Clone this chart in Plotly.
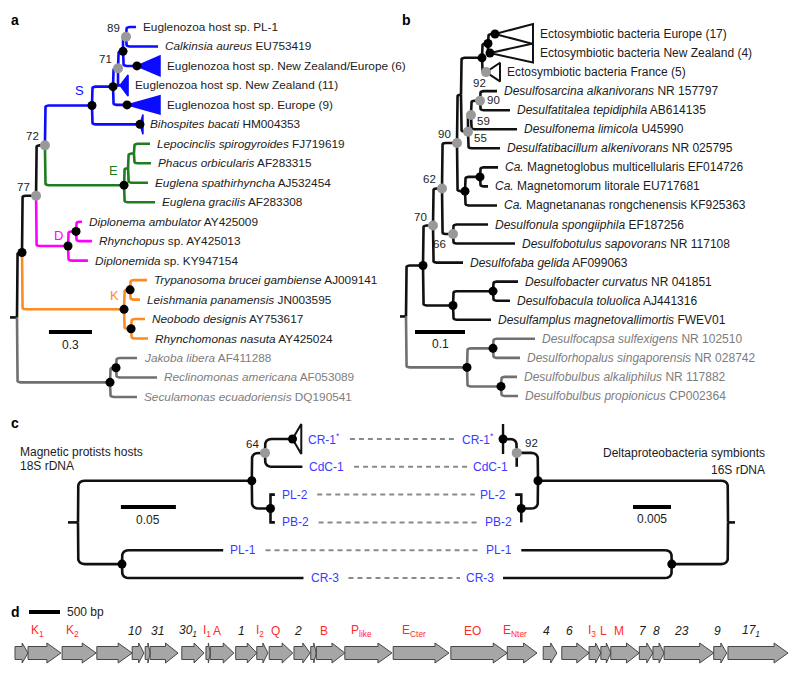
import plotly.graph_objects as go

W, H = 800, 674          # reference picture size (pixel frame of all positions below)
OFF = 8                  # page body margin of the html page
FIG_W, FIG_H = W - OFF, H - OFF
FONT = "Liberation Sans, Arial, Helvetica, sans-serif"
TXT = "#1c1c1c"

GROUP_COLOR = {"k": "#111111", "S": "#0b0bff", "E": "#1e7d1e", "D": "#ff00ff",
               "K": "#ff8a1e", "o": "#707070"}
LABEL_COLOR = {"k": TXT, "S": TXT, "E": TXT, "D": TXT, "K": TXT, "o": "#7d7d7d"}
DOT_COLOR = {"b": "#000000", "g": "#999999"}

# ======================= panel a : host 18S tree =======================
A_NODE_NAMES = ["root", "n22", "n77", "n72", "S", "A", "n71", "N1", "n89",
                "E", "E2", "E3", "D", "D2", "K", "K1", "K2", "O1", "O2"]
A_NODE_PARENTS = [None, "root", "n22", "n77", "n72", "S", "A", "n71", "N1",
                  "n72", "E", "E2", "n77", "D", "n22", "K", "K", "root", "O1"]
A_NODE_DEPTHS = [0.0, 0.035, 0.133, 0.195, 0.523, 0.670, 0.705, 0.740, 0.761,
                 0.747, 0.775, 0.816, 0.356, 0.412, 0.747, 0.789, 0.796, 0.649, 0.691]
A_NODE_GROUPS = ["k", "k", "k", "k", "S", "S", "S", "S", "S",
                 "E", "E", "E", "D", "D", "K", "K", "K", "o", "o"]
A_NODE_DOTS = ["", "b", "g", "g", "b", "b", "g", "b", "g",
               "b", "", "", "b", "b", "b", "b", "b", "b", "b"]
A_SUPPORT = {"n77": "77", "n72": "72", "n71": "71", "n89": "89"}
A_CLADE_TAGS = {"S": "S", "E": "E", "D": "D", "K": "K"}

A_LEAF_LABELS = [
    "Euglenozoa host sp. PL-1",
    "<i>Calkinsia aureus</i> EU753419",
    "Euglenozoa host sp. New Zealand/Europe (6)",
    "Euglenozoa host sp. New Zealand (11)",
    "Euglenozoa host sp. Europe (9)",
    "<i>Bihospites bacati</i> HM004353",
    "<i>Lepocinclis spirogyroides</i> FJ719619",
    "<i>Phacus orbicularis</i> AF283315",
    "<i>Euglena spathirhyncha</i> AJ532454",
    "<i>Euglena gracilis</i> AF283308",
    "<i>Diplonema ambulator</i> AY425009",
    "<i>Rhynchopus</i> sp. AY425013",
    "<i>Diplonemida</i> sp. KY947154",
    "<i>Trypanosoma brucei gambiense</i> AJ009141",
    "<i>Leishmania panamensis</i> JN003595",
    "<i>Neobodo designis</i> AY753617",
    "<i>Rhynchomonas nasuta</i> AY425024",
    "<i>Jakoba libera</i> AF411288",
    "<i>Reclinomonas americana</i> AF053089",
    "<i>Seculamonas ecuadoriensis</i> DQ190541",
]
A_LEAF_PARENTS = ["n89", "n89", "N1", "n71", "A", "S", "E3", "E3", "E2", "E",
                  "D2", "D2", "D", "K1", "K1", "K2", "K2", "O2", "O2", "O1"]
A_LEAF_DEPTHS = [0.830, 0.984, 0.837, 0.719, 0.768, 0.858, 0.928, 0.935, 0.914, 0.963,
                 0.454, 0.523, 0.495, 0.907, 0.858, 0.893, 0.914, 0.837, 0.977, 0.837]
A_LEAF_GROUPS = ["S"] * 6 + ["E"] * 4 + ["D"] * 3 + ["K"] * 4 + ["o"] * 3
A_LEAF_DOTS = ["", "", "b", "", "b", "b"] + [""] * 14
A_COLLAPSED_END = [None, None, 0.998, 0.775, 0.998, 0.879] + [None] * 14
A_COLLAPSED_HALF = [0, 0, 0.51, 0.54, 0.47, 0.51] + [0] * 14

# ======================= panel b : symbiont 16S tree =======================
B_NODE_NAMES = ["root", "R1", "n70", "n62", "n90", "T", "E", "N", "n55", "n59",
                "n90b", "M1", "M2", "n66", "B1", "B2", "O1", "O2", "O3"]
B_NODE_PARENTS = [None, "root", "R1", "n70", "n62", "n90", "T", "E", "T", "n55",
                  "n59", "n90", "M1", "n62", "R1", "B1", "root", "O1", "O1"]
B_NODE_DEPTHS = [0.0, 0.034, 0.054, 0.072, 0.102, 0.110, 0.152, 0.164, 0.124, 0.130,
                 0.148, 0.118, 0.148, 0.094, 0.094, 0.174, 0.122, 0.174, 0.190]
B_NODE_GROUPS = ["k"] * 16 + ["o"] * 3
B_NODE_DOTS = ["", "b", "g", "g", "g", "", "b", "b", "g", "g",
               "g", "b", "b", "g", "b", "b", "b", "b", "b"]
B_SUPPORT = {"n70": "70", "n62": "62", "n90": "90", "n55": "55", "n59": "59",
             "n90b": "90", "n66": "66", "@2": "92"}

B_LEAF_LABELS = [
    "Ectosymbiotic bacteria Europe (17)",
    "Ectosymbiotic bacteria New Zealand (4)",
    "Ectosymbiotic bacteria France (5)",
    "<i>Desulfosarcina alkanivorans</i> NR 157797",
    "<i>Desulfatitalea tepidiphila</i> AB614135",
    "<i>Desulfonema limicola</i> U45990",
    "<i>Desulfatibacillum alkenivorans</i> NR 025795",
    "<i>Ca.</i> Magnetoglobus multicellularis EF014726",
    "<i>Ca.</i> Magnetomorum litorale EU717681",
    "<i>Ca.</i> Magnetananas rongchenensis KF925363",
    "<i>Desulfonula spongiiphila</i> EF187256",
    "<i>Desulfobotulus sapovorans</i> NR 117108",
    "<i>Desulfofaba gelida</i> AF099063",
    "<i>Desulfobacter curvatus</i> NR 041851",
    "<i>Desulfobacula toluolica</i> AJ441316",
    "<i>Desulfamplus magnetovallimortis</i> FWEV01",
    "<i>Desulfocapsa sulfexigens</i> NR 102510",
    "<i>Desulforhopalus singaporensis</i> NR 028742",
    "<i>Desulfobulbus alkaliphilus</i> NR 117882",
    "<i>Desulfobulbus propionicus</i> CP002364",
]
B_LEAF_PARENTS = ["N", "N", "E", "n90b", "n90b", "n59", "n55", "M2", "M2", "M1",
                  "n66", "n66", "n70", "B2", "B2", "B1", "O2", "O2", "O3", "O3"]
B_LEAF_DEPTHS = [0.178, 0.168, 0.160, 0.182, 0.208, 0.222, 0.188, 0.184, 0.164, 0.182,
                 0.164, 0.218, 0.114, 0.224, 0.208, 0.170, 0.258, 0.228, 0.222, 0.224]
B_LEAF_GROUPS = ["k"] * 16 + ["o"] * 4
B_LEAF_DOTS = ["b", "b", "g"] + [""] * 17
B_COLLAPSED_END = [0.254, 0.254, 0.188] + [None] * 17
B_COLLAPSED_HALF = [0.52, 0.50, 0.49] + [0] * 17

# ======================= panel c : co-phylogeny =======================
C_LEAF_LABELS = ["CR-1<sup>*</sup>", "CdC-1", "PL-2", "PB-2", "PL-1", "CR-3"]
C_LEAF_PLAIN = ["CR-1*", "CdC-1", "PL-2", "PB-2", "PL-1", "CR-3"]

CH_NODE_NAMES = ["root", "h1", "h64", "h2", "h3"]
CH_NODE_PARENTS = [None, "root", "h1", "h1", "root"]
CH_NODE_DEPTHS = [0.0, 0.158, 0.170, 0.175, 0.040]
CH_NODE_DOTS = ["", "b", "g", "b", "b"]
CH_SUPPORT = {"h64": "64"}
CH_LEAF_PARENTS = ["h64", "h64", "h2", "h2", "h3", "h3"]
CH_LEAF_DEPTHS = [0.195, 0.204, 0.179, 0.179, 0.132, 0.205]
CH_LEAF_DOTS = ["b", "", "", "", "", ""]
CH_COLLAPSED_END = [0.203, None, None, None, None, None]

CS_NODE_NAMES = ["root", "s1", "s92", "s2", "s3"]
CS_NODE_PARENTS = [None, "root", "s1", "s1", "root"]
CS_NODE_DEPTHS = [0.0, 0.0250, 0.0278, 0.0272, 0.0074]
CS_NODE_DOTS = ["", "b", "g", "b", "b"]
CS_SUPPORT = {"s92": "92"}
CS_LEAF_PARENTS = ["s92", "s92", "s2", "s2", "s3", "s3"]
CS_LEAF_DEPTHS = [0.0296, 0.0278, 0.0280, 0.0272, 0.0272, 0.0296]
CS_LEAF_DOTS = ["b", "", "", "", "", ""]
CS_COLLAPSED_END = [0.0296, None, None, None, None, None]
C_COLLAPSED_HALF = [0.54, 0, 0, 0, 0, 0]

# ======================= panel d : magnetosome gene cluster (bp) =======================
GENE_START = [0, 210, 760, 1320, 1890, 2100, 2180, 2690, 3080, 3150, 3560, 3900, 4100,
              4500, 4770, 4860, 5320, 6100, 7030, 7940, 8520, 8820, 9260, 9450, 9610,
              10070, 10290, 10470, 11270, 11500]
GENE_END = [210, 740, 1310, 1890, 2080, 2180, 2630, 3050, 3150, 3530, 3900, 4080, 4480,
            4760, 4860, 5320, 6080, 7000, 7940, 8420, 8740, 9260, 9450, 9610, 10070,
            10290, 10470, 11270, 11480, 12470]
GENE_LABELS = ["", "K<sub>1</sub>", "K<sub>2</sub>", "", "10", "", "31", "30<sub>1</sub>",
               "I<sub>1</sub>", "A", "1", "I<sub>2</sub>", "Q", "2", "", "B", "P<sub>like</sub>",
               "E<sub>Cter</sub>", "EO", "E<sub>Nter</sub>", "4", "6", "I<sub>3</sub>", "L", "M",
               "7", "8", "23", "9", "17<sub>1</sub>"]
GENE_KIND = ["", "mam", "mam", "", "num", "", "num", "num", "mam", "mam", "num", "mam", "mam",
             "num", "", "mam", "mam", "mam", "mam", "mam", "num", "num", "mam", "mam", "mam",
             "num", "num", "num", "num", "num"]
SCALE_BP = 500

# ======================= geometry / style (pixel frames) =======================
STYLE_A = dict(ax=1, x0=17, xs=143.3, y0=27, ys=19.47, rev=False, lw=2.6, radius=3.5,
               size=11.8, pad=5, stub=7, tri_fill=True, tri_lw=1.5)
STYLE_B = dict(ax=2, x0=406, xs=500.0, y0=34, ys=19.05, rev=False, lw=2.6, radius=3.5,
               size=12, pad=5, stub=6, tri_fill=False, tri_lw=2)
STYLE_CH = dict(ax=3, x0=78, xs=1100.0, y0=439, ys=27.8, rev=False, lw=2.6, radius=7,
                size=12, pad=5, stub=10, tri_fill=False, tri_lw=2, label_color="#3b3bff")
STYLE_CS = dict(ax=4, x0=728, xs=7600.0, y0=439, ys=27.8, rev=True, lw=2.6, radius=7,
                size=12, pad=7, stub=7, tri_fill=False, tri_lw=2.4, label_color="#3b3bff")
D_X0, D_BP_PER_PX, D_Y0, D_PX_PER_UNIT = 15, 16.13, 653, 10.0

SUPPORT_POS = {  # (xanchor, xshift, yshift)
    "ul": ("right", -4, 9), "ll": ("right", -5, -10), "r": ("left", 5, 1),
    "lr": ("left", 4, -6), "ur": ("left", 6, 10), "b": ("right", 2, -11),
}
A_SUPPORT_POS = {"n77": "ul", "n72": "ul", "n71": "ul", "n89": "ul"}
B_SUPPORT_POS = {"n70": "ul", "n62": "ul", "n90": "ul", "n55": "lr", "n59": "lr",
                 "n90b": "r", "n66": "ll", "@2": "b"}
A_TAG_SHIFT = {"S": (-12, 15), "E": (-11, 15), "D": (-10, 11), "K": (-10, 14)}

fig = go.Figure()
annotations = []


def axname(i):
    return ("x" if i == 1 else "x%d" % i), ("y" if i == 1 else "y%d" % i)


def elbow(xp, yp, xc, yc, rx, ry):
    if abs(yc - yp) < 1e-9:
        return [(xp, yp), (xc, yc)]
    s = 1.0 if yc > yp else -1.0
    if abs(yc - yp) <= ry or (xc - xp) <= rx:
        return [(xp, yp), (xp, yc), (xc, yc)]
    a = (xp, yc - s * ry)
    b = (xp, yc)
    c = (xp + rx, yc)
    pts = [(xp, yp), a]
    for t in (0.2, 0.4, 0.6, 0.8):
        pts.append(((1 - t) ** 2 * a[0] + 2 * (1 - t) * t * b[0] + t * t * c[0],
                    (1 - t) ** 2 * a[1] + 2 * (1 - t) * t * b[1] + t * t * c[1]))
    pts += [c, (xc, yc)]
    return pts


def draw_tree(st, names, parents, depths, groups, dots, support, support_pos,
              labels, lparents, ldepths, lgroups, ldots, cend, chalf):
    xr, yr = axname(st["ax"])
    children = {n: [] for n in names}
    for n, p in zip(names, parents):
        if p is not None:
            children[p].append(n)
    for i, p in enumerate(lparents):
        children[p].append("@%d" % i)
    ypos = {}

    def gy(n):
        if n.startswith("@"):
            return float(n[1:])
        if n not in ypos:
            ys = [gy(c) for c in children[n]]
            ypos[n] = (min(ys) + max(ys)) / 2.0
        return ypos[n]

    for n in names:
        gy(n)
    depth = dict(zip(names, depths))
    for i, d in enumerate(ldepths):
        depth["@%d" % i] = d
        ypos["@%d" % i] = float(i)
    rx = st["radius"] / st["xs"]
    ry = st["radius"] / st["ys"]
    segs = {}

    def add(color, pts):
        xs, ys = segs.setdefault(color, ([], []))
        for x, y in pts:
            xs.append(x)
            ys.append(y)
        xs.append(None)
        ys.append(None)

    root = names[0]
    add(GROUP_COLOR[groups[0]], [(-st["stub"] / st["xs"], ypos[root]), (0.0, ypos[root])])
    for n, p, g in zip(names, parents, groups):
        if p is not None:
            add(GROUP_COLOR[g], elbow(depth[p], ypos[p], depth[n], ypos[n], rx, ry))
    for i, (p, g) in enumerate(zip(lparents, lgroups)):
        add(GROUP_COLOR[g], elbow(depth[p], ypos[p], ldepths[i], float(i), rx, ry))
    for color, (xs, ys) in segs.items():
        fig.add_trace(go.Scatter(x=xs, y=ys, mode="lines", xaxis=xr, yaxis=yr,
                                 line=dict(color=color, width=st["lw"]), hoverinfo="skip"))
    # collapsed clades (triangles)
    for i, e in enumerate(cend):
        if e is None:
            continue
        d, h = ldepths[i], chalf[i]
        col = GROUP_COLOR[lgroups[i]]
        fig.add_trace(go.Scatter(
            x=[d, e, e, d], y=[i, i - h, i + h, i], mode="lines", xaxis=xr, yaxis=yr,
            fill="toself" if st["tri_fill"] else "none", fillcolor=col,
            line=dict(color=col, width=st["tri_lw"]), hoverinfo="skip"))
    # node dots
    for kind, size in (("b", 9), ("g", 10)):
        xs, ys = [], []
        for n, dt in zip(names, dots):
            if dt == kind:
                xs.append(depth[n])
                ys.append(ypos[n])
        for i, dt in enumerate(ldots):
            if dt == kind:
                xs.append(ldepths[i])
                ys.append(float(i))
        if xs:
            fig.add_trace(go.Scatter(x=xs, y=ys, mode="markers", xaxis=xr, yaxis=yr,
                                     marker=dict(color=DOT_COLOR[kind], size=size, line=dict(width=0)),
                                     hoverinfo="skip"))
    # leaf labels
    for i, lab in enumerate(labels):
        lx = cend[i] if cend[i] is not None else ldepths[i]
        color = st.get("label_color", LABEL_COLOR[lgroups[i]])
        annotations.append(dict(
            x=lx, y=i, xref=xr, yref=yr, text=lab, showarrow=False,
            xanchor="right" if st["rev"] else "left", yanchor="middle",
            xshift=-st["pad"] if st["rev"] else st["pad"],
            font=dict(family=FONT, size=st["size"], color=color)))
    # support values
    for n, val in support.items():
        xa, xsft, ysft = SUPPORT_POS[support_pos[n]]
        annotations.append(dict(
            x=depth[n], y=ypos[n], xref=xr, yref=yr, text=val, showarrow=False,
            xanchor=xa, yanchor="middle", xshift=xsft, yshift=ysft,
            font=dict(family=FONT, size=11.5, color=TXT)))
    return depth, ypos


# ---- axes (every subplot spans the whole figure; ranges map data to the reference pixels)
def set_axes(i, xrng, yrng):
    xk = "xaxis" if i == 1 else "xaxis%d" % i
    yk = "yaxis" if i == 1 else "yaxis%d" % i
    xr, yr = axname(i)
    fig.layout[xk] = dict(domain=[0, 1], range=xrng, visible=False, fixedrange=True, anchor=yr)
    fig.layout[yk] = dict(domain=[0, 1], range=yrng, visible=False, fixedrange=True, anchor=xr)


for st in (STYLE_A, STYLE_B, STYLE_CH, STYLE_CS):
    if st["rev"]:
        xrng = [(st["x0"] - OFF) / st["xs"], (st["x0"] - W) / st["xs"]]
    else:
        xrng = [(OFF - st["x0"]) / st["xs"], (W - st["x0"]) / st["xs"]]
    yrng = [(H - st["y0"]) / st["ys"], (OFF - st["y0"]) / st["ys"]]
    set_axes(st["ax"], xrng, yrng)
set_axes(5, [(OFF - D_X0) * D_BP_PER_PX, (W - D_X0) * D_BP_PER_PX],
         [(D_Y0 - H) / D_PX_PER_UNIT, (D_Y0 - OFF) / D_PX_PER_UNIT])

# ---- panel a
dA, yA = draw_tree(STYLE_A, A_NODE_NAMES, A_NODE_PARENTS, A_NODE_DEPTHS, A_NODE_GROUPS,
                   A_NODE_DOTS, A_SUPPORT, A_SUPPORT_POS, A_LEAF_LABELS, A_LEAF_PARENTS,
                   A_LEAF_DEPTHS, A_LEAF_GROUPS, A_LEAF_DOTS, A_COLLAPSED_END, A_COLLAPSED_HALF)
for n, tag in A_CLADE_TAGS.items():
    xs_, ys_ = A_TAG_SHIFT[tag]
    annotations.append(dict(x=dA[n], y=yA[n], xref="x", yref="y", text=tag, showarrow=False,
                            xanchor="center", yanchor="middle", xshift=xs_, yshift=ys_,
                            font=dict(family=FONT, size=13, color=GROUP_COLOR[tag])))

# ---- panel b
draw_tree(STYLE_B, B_NODE_NAMES, B_NODE_PARENTS, B_NODE_DEPTHS, B_NODE_GROUPS,
          B_NODE_DOTS, B_SUPPORT, B_SUPPORT_POS, B_LEAF_LABELS, B_LEAF_PARENTS,
          B_LEAF_DEPTHS, B_LEAF_GROUPS, B_LEAF_DOTS, B_COLLAPSED_END, B_COLLAPSED_HALF)

# ---- panel c
draw_tree(STYLE_CH, CH_NODE_NAMES, CH_NODE_PARENTS, CH_NODE_DEPTHS, ["k"] * 5,
          CH_NODE_DOTS, CH_SUPPORT, {"h64": "ul"}, C_LEAF_LABELS, CH_LEAF_PARENTS,
          CH_LEAF_DEPTHS, ["k"] * 6, CH_LEAF_DOTS, CH_COLLAPSED_END, C_COLLAPSED_HALF)
draw_tree(STYLE_CS, CS_NODE_NAMES, CS_NODE_PARENTS, CS_NODE_DEPTHS, ["k"] * 5,
          CS_NODE_DOTS, CS_SUPPORT, {"s92": "ur"}, C_LEAF_LABELS, CS_LEAF_PARENTS,
          CS_LEAF_DEPTHS, ["k"] * 6, CS_LEAF_DOTS, CS_COLLAPSED_END, C_COLLAPSED_HALF)

# dashed host-symbiont links, computed from label extents
ARIAL_W = {"C": 722, "R": 722, "-": 333, "1": 556, "*": 300, "d": 556, "D": 722,
           "P": 667, "L": 556, "2": 556, "B": 667, "3": 556}


def text_px(s, size=12):
    return sum(ARIAL_W.get(ch, 556) for ch in s) * size / 1000.0


lx, ly = [], []
for i, plain in enumerate(C_LEAF_PLAIN):
    hx = CH_COLLAPSED_END[i] if CH_COLLAPSED_END[i] is not None else CH_LEAF_DEPTHS[i]
    sx = CS_COLLAPSED_END[i] if CS_COLLAPSED_END[i] is not None else CS_LEAF_DEPTHS[i]
    left_px = STYLE_CH["x0"] + hx * STYLE_CH["xs"] + STYLE_CH["pad"] + text_px(plain) + 12
    right_px = STYLE_CS["x0"] - sx * STYLE_CS["xs"] - STYLE_CS["pad"] - text_px(plain) - 8
    lx += [(left_px - STYLE_CH["x0"]) / STYLE_CH["xs"], (right_px - STYLE_CH["x0"]) / STYLE_CH["xs"], None]
    ly += [i, i, None]
fig.add_trace(go.Scatter(x=lx, y=ly, mode="lines", xaxis="x3", yaxis="y3",
                         line=dict(color="#8a8a8a", width=2, dash="5px,4px"), hoverinfo="skip"))

# ---- scale bars for trees
SCALE_BARS = [  # (style, length, start, row, label, text shift)
    (STYLE_A, 0.3, 0.223, 15.66, "0.3", -13),
    (STYLE_B, 0.1, 0.018, 15.64, "0.1", -12),
    (STYLE_CH, 0.05, 0.039, 2.45, "0.05", -13),
    (STYLE_CS, 0.005, 0.0075, 2.45, "0.005", -12),
]
for st, length, x0, row, lab, tsh in SCALE_BARS:
    xr, yr = axname(st["ax"])
    fig.add_trace(go.Scatter(x=[x0, x0 + length], y=[row, row], mode="lines", xaxis=xr, yaxis=yr,
                             line=dict(color="#000000", width=4), hoverinfo="skip"))
    annotations.append(dict(x=x0 + length / 2, y=row, xref=xr, yref=yr, text=lab, showarrow=False,
                            xanchor="center", yanchor="middle", yshift=tsh,
                            font=dict(family=FONT, size=12, color=TXT)))

# ---- panel d: gene arrows
BODY, HEAD = 0.65, 1.0
gx, gy_ = [], []
for s, e, lab, kind in zip(GENE_START, GENE_END, GENE_LABELS, GENE_KIND):
    head = min(14 * D_BP_PER_PX, 0.45 * (e - s))
    gx += [s, e - head, e - head, e, e - head, e - head, s, s, None]
    gy_ += [-BODY, -BODY, -HEAD, 0, HEAD, BODY, BODY, -BODY, None]
    if lab:
        txt = "<i>%s</i>" % lab if kind == "num" else lab
        annotations.append(dict(
            x=(s + e - head) / 2.0, y=2.2, xref="x5", yref="y5", text=txt, showarrow=False,
            xanchor="center", yanchor="middle",
            font=dict(family=FONT, size=12, color="#ff2b2b" if kind == "mam" else TXT)))
fig.add_trace(go.Scatter(x=gx, y=gy_, mode="lines", xaxis="x5", yaxis="y5", fill="toself",
                         fillcolor="#a6a6a6", line=dict(color="#474747", width=1), hoverinfo="skip"))
bar0 = 14 * D_BP_PER_PX
fig.add_trace(go.Scatter(x=[bar0, bar0 + SCALE_BP], y=[4.1, 4.1], mode="lines", xaxis="x5", yaxis="y5",
                         line=dict(color="#000000", width=4), hoverinfo="skip"))
annotations.append(dict(x=bar0 + SCALE_BP, y=4.1, xref="x5", yref="y5", text="500 bp", showarrow=False,
                        xanchor="left", yanchor="middle", xshift=5,
                        font=dict(family=FONT, size=12, color=TXT)))


# ---- paper text: panel letters, panel c headings
def paper_text(txt, px, py, anchor="left", size=12, bold=False):
    annotations.append(dict(x=(px - OFF) / FIG_W, y=1 - (py - OFF) / FIG_H, xref="paper", yref="paper",
                            text="<b>%s</b>" % txt if bold else txt, showarrow=False,
                            xanchor=anchor, yanchor="middle",
                            font=dict(family=FONT, size=size, color="#000000" if bold else TXT)))


for letter, px, py in (("a", 9, 20), ("b", 400, 20), ("c", 9, 423), ("d", 9, 612)):
    paper_text(letter, px, py, size=14, bold=True)
paper_text("Magnetic protists hosts", 18, 452)
paper_text("18S rDNA", 18, 466)
paper_text("Deltaproteobacteria symbionts", 767, 453, anchor="right")
paper_text("16S rDNA", 767, 470, anchor="right")

fig.update_layout(width=FIG_W, height=FIG_H, autosize=False,
                  margin=dict(l=0, r=0, t=0, b=0, pad=0),
                  paper_bgcolor="white", plot_bgcolor="rgba(0,0,0,0)",
                  showlegend=False, hovermode=False, annotations=annotations)
fig.write_html("out.html")
